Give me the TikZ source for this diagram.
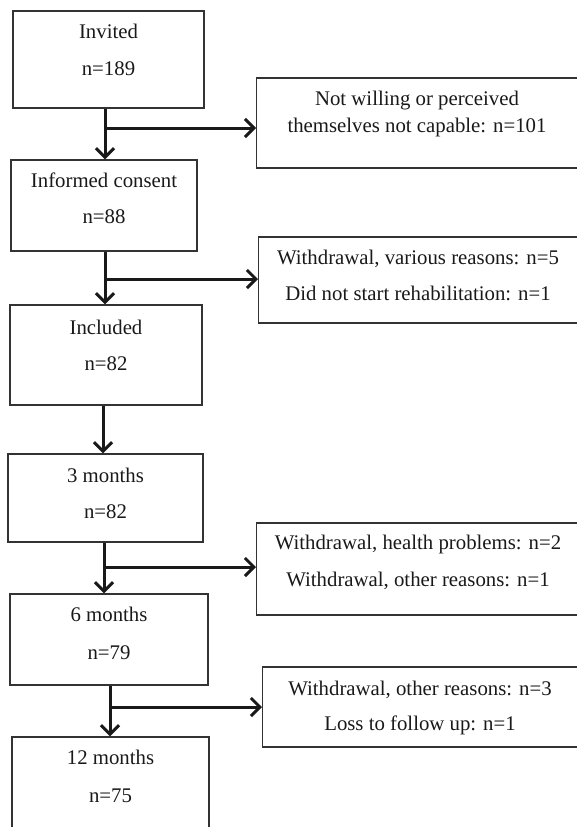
\documentclass[tikz,border=0pt]{standalone}
\usepackage{fontspec}
\setmainfont{Liberation Serif}
\usetikzlibrary{arrows.meta}
\tikzset{
  box/.style={draw=black!80, line width=1.3pt, rectangle, inner sep=0pt},
  txt/.style={anchor=base, inner sep=0pt, font=\fontsize{20.8}{24}\selectfont, text=black!90},
  arr/.style={line width=3pt, draw=black!90, -{Straight Barb[length=9pt,width=18pt,line width=3pt]}},
  ln/.style={line width=3pt, draw=black!90}
}
\begin{document}
\begin{tikzpicture}[x=1pt,y=-1pt]
\useasboundingbox (0,0) rectangle (577,827);
\clip (0,0) rectangle (577,827);
% main boxes
\node[box, minimum width=191pt, minimum height=97pt] (b1) at (108.5,59.5) {};
\node[box, minimum width=186pt, minimum height=91pt] (b2) at (104,205.5) {};
\node[box, minimum width=192pt, minimum height=100pt] (b3) at (106,355) {};
\node[box, minimum width=195pt, minimum height=88pt] (b4) at (105.5,498) {};
\node[box, minimum width=198pt, minimum height=91pt] (b5) at (109,639.5) {};
\node[box, minimum width=197pt, minimum height=110pt] (b6) at (110.5,792) {};
% side boxes (open on the right, cut by the page edge)
\node[box, anchor=west, minimum width=340pt, minimum height=90pt] (r1) at (256,123) {};
\node[box, anchor=west, minimum width=340pt, minimum height=86pt] (r2) at (258,280) {};
\node[box, anchor=west, minimum width=340pt, minimum height=92pt] (r3) at (256,569) {};
\node[box, anchor=west, minimum width=340pt, minimum height=80pt] (r4) at (262,707) {};
% texts
\node[txt] (t1a) at (108.5,38) {Invited};
\node[txt] (t1b) at (108.5,75) {n=189};
\node[txt] (t2a) at (104,187) {Informed consent};
\node[txt] (t2b) at (104,223) {n=88};
\node[txt] (t3a) at (106,334) {Included};
\node[txt] (t3b) at (106,370) {n=82};
\node[txt] (t4a) at (105.5,482) {3 months};
\node[txt] (t4b) at (105.5,518) {n=82};
\node[txt] (t5a) at (109,621) {6 months};
\node[txt] (t5b) at (109,659) {n=79};
\node[txt] (t6a) at (110.5,764) {12 months};
\node[txt] (t6b) at (110.5,802) {n=75};
\node[txt] (s1a) at (417,105) {Not willing or perceived};
\node[txt] (s1b) at (417,132) {themselves not capable: n=101};
\node[txt] (s2a) at (418,264) {Withdrawal, various reasons: n=5};
\node[txt] (s2b) at (418,300) {Did not start rehabilitation: n=1};
\node[txt] (s3a) at (418,549) {Withdrawal, health problems: n=2};
\node[txt] (s3b) at (418,586) {Withdrawal, other reasons: n=1};
\node[txt] (s4a) at (420,695) {Withdrawal, other reasons: n=3};
\node[txt] (s4b) at (420,730) {Loss to follow up: n=1};
% junction coordinates
\coordinate (j1) at (105,128);
\coordinate (j2) at (105,279);
\coordinate (j4) at (104,567);
\coordinate (j5) at (110,707);
\coordinate (c3) at (103,0);
% connectors
\draw[arr] (j1 |- b1.south) -- (j1 |- b2.north);
\draw[arr] (j1) -- (r1.west |- j1);
\draw[arr] (j2 |- b2.south) -- (j2 |- b3.north);
\draw[arr] (j2) -- (r2.west |- j2);
\draw[arr] (c3 |- b3.south) -- (c3 |- b4.north);
\draw[arr] (j4 |- b4.south) -- (j4 |- b5.north);
\draw[arr] (j4) -- (r3.west |- j4);
\draw[arr] (j5 |- b5.south) -- (j5 |- b6.north);
\draw[arr] (j5) -- (r4.west |- j5);
\end{tikzpicture}
\end{document}
